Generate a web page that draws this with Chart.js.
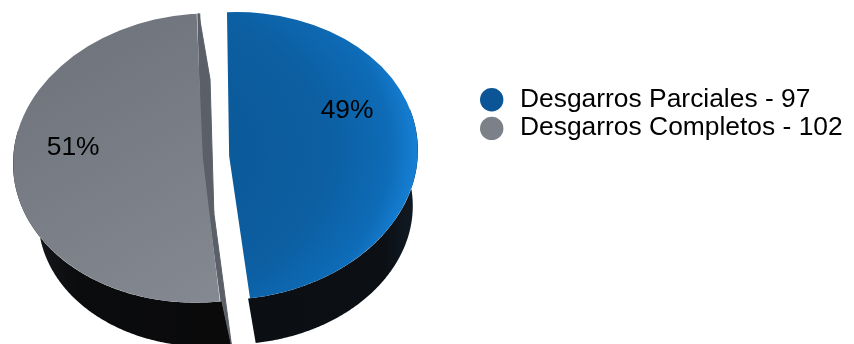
<!DOCTYPE html>
<html>
<head>
<meta charset="utf-8">
<script src="https://cdn.jsdelivr.net/npm/chart.js@4/dist/chart.umd.min.js"></script>
<style>
  html, body { margin: 0; padding: 0; background: #ffffff; }
  #wrap { position: relative; width: 854px; height: 344px; }
</style>
</head>
<body>
<div id="wrap"><canvas id="chart" width="854" height="344"></canvas></div>
<script>
// Tear types and patient counts
const categories = ['Desgarros Parciales', 'Desgarros Completos'];
const counts = [97, 102];
const sliceColors = ['#0c5c9c', '#7a7f87'];

const total = counts.reduce((a, b) => a + b, 0);
const percentLabels = counts.map(v => Math.round(v / total * 100) + '%');

// Top-face shading for each slice (in the pie's own drawing space)
function faceFill(context) {
  const chart = context.chart;
  const area = chart.chartArea;
  const i = context.dataIndex;
  if (!area) return sliceColors[i];
  const c = chart.ctx;
  const cx = (area.left + area.right) / 2;
  const cy = (area.top + area.bottom) / 2;
  const r = Math.min(area.width, area.height) / 2;
  if (i === 0) {
    const g = c.createRadialGradient(cx - 0.5 * r, cy - 0.05 * r, 0, cx - 0.5 * r, cy - 0.05 * r, 1.5 * r);
    g.addColorStop(0, '#0a5592');
    g.addColorStop(0.66, '#0c5fa2');
    g.addColorStop(0.86, '#0e6bb6');
    g.addColorStop(0.95, '#157fd4');
    g.addColorStop(1, '#1f8fe8');
    return g;
  }
  const g = c.createLinearGradient(cx - r, cy - r, cx + 0.2 * r, cy + r);
  g.addColorStop(0, '#6c7179');
  g.addColorStop(1, '#868b93');
  return g;
}

// Draws the pie as an extruded, tilted disc seen in perspective: side walls
// first, then the slice tops (drawn by Chart.js under a projection), then
// the percentages.
const pie3d = {
  id: 'pie3d',
  beforeDatasetsDraw(chart, args, o) {
    const ctx = chart.ctx;
    const arcs = chart.getDatasetMeta(0).data;
    if (!arcs.length) return;
    const first = arcs[0];
    const geom = arcs.map(arc => {
      const p = arc.getProps(['x', 'y', 'startAngle', 'endAngle', 'outerRadius', 'circumference']);
      const off = (arc.options.offset || 0) / 4;
      const mid = (p.startAngle + p.endAngle) / 2;
      const fix = 1 - Math.sin(Math.min(Math.PI, p.circumference || 0));
      return {
        cx: p.x + Math.cos(mid) * off,
        cy: p.y + Math.sin(mid) * off,
        r: p.outerRadius + off * fix,
        a0: p.startAngle, a1: p.endAngle, mid
      };
    });
    const s = o.radius / geom[0].r;
    const ct = Math.cos(o.tilt), st = Math.sin(o.tilt);
    const m = { a: s * ct, b: s * st, c: -s * o.squash * st, d: s * o.squash * ct };
    m.e = o.cx - (m.a * first.x + m.c * first.y);
    m.f = o.cy - (m.b * first.x + m.d * first.y);
    const P = (x, y) => [m.a * x + m.c * y + m.e, m.b * x + m.d * y + m.f];
    // bottom face: top face shrunk toward a vanishing point below the disc
    const [dx, dy] = o.depth;
    const k = o.bottomScale;
    const B = q => [o.cx + dx + k * (q[0] - o.cx), o.cy + dy + k * (q[1] - o.cy)];
    chart.$pie3d = { m, P, geom };

    // curved outer walls, front-facing stretch only
    const wLo = o.wallRange[0] * Math.PI / 180;
    const wHi = o.wallRange[1] * Math.PI / 180;
    geom.forEach((g, i) => {
      const t0 = Math.max(g.a0, wLo), t1 = Math.min(g.a1, wHi);
      if (t1 <= t0) return;
      const n = Math.max(16, Math.ceil((t1 - t0) / 0.01));
      const top = [];
      for (let j = 0; j <= n; j++) {
        const t = t0 + (t1 - t0) * j / n;
        top.push(P(g.cx + g.r * Math.cos(t), g.cy + g.r * Math.sin(t)));
      }
      ctx.beginPath();
      top.forEach((p, j) => j ? ctx.lineTo(p[0], p[1]) : ctx.moveTo(p[0], p[1]));
      for (let j = top.length - 1; j >= 0; j--) {
        const b = B(top[j]);
        ctx.lineTo(b[0], b[1]);
      }
      ctx.closePath();
      const xs = top.map(p => p[0]);
      const lg = ctx.createLinearGradient(Math.min(...xs), 0, Math.max(...xs), 0);
      o.wallStops[i].forEach(([pos, col]) => lg.addColorStop(pos, col));
      ctx.fillStyle = lg;
      ctx.fill();
    });

    // flat cut faces along the split, only those turned toward the viewer
    geom.forEach((g, i) => {
      const c0 = P(g.cx, g.cy);
      const cb = B(c0);
      [[g.a0, -1], [g.a1, 1]].forEach(([t, side]) => {
        const e = P(g.cx + g.r * Math.cos(t), g.cy + g.r * Math.sin(t));
        const eb = B(e);
        const q = [c0, e, eb, cb];
        let area = 0;
        q.forEach((p, j) => { const n2 = q[(j + 1) % 4]; area += p[0] * n2[1] - n2[0] * p[1]; });
        if (area * side <= 0) return;
        ctx.fillStyle = o.cutColors[i];
        ctx.strokeStyle = o.cutColors[i];
        ctx.beginPath();
        q.forEach((p, j) => j ? ctx.lineTo(p[0], p[1]) : ctx.moveTo(p[0], p[1]));
        ctx.closePath();
        ctx.lineWidth = 1;
        ctx.fill();
        ctx.stroke();
        // tuck the shared edge under the slice top so no seam shows
        ctx.beginPath();
        ctx.moveTo(c0[0], c0[1]);
        ctx.lineTo(e[0], e[1]);
        ctx.lineWidth = 3;
        ctx.stroke();
      });
    });

    ctx.save();
    ctx.transform(m.a, m.b, m.c, m.d, m.e, m.f);
  },
  afterDatasetsDraw(chart, args, o) {
    const ctx = chart.ctx;
    if (!chart.$pie3d) return;
    ctx.restore();
    const { P, geom } = chart.$pie3d;
    ctx.save();
    ctx.font = o.labelFont;
    ctx.fillStyle = '#000000';
    ctx.textAlign = 'center';
    ctx.textBaseline = 'middle';
    geom.forEach((g, i) => {
      const lift = o.labelLift[i] * Math.PI / 180;
      const t = g.mid + (Math.cos(g.mid) >= 0 ? -lift : lift);
      const p = P(g.cx + g.r * o.labelRadius * Math.cos(t), g.cy + g.r * o.labelRadius * Math.sin(t));
      ctx.fillText(percentLabels[i], p[0], p[1]);
    });
    ctx.restore();
  },
  afterDraw(chart, args, o) {
    // legend: colored dot + "category - count"
    const ctx = chart.ctx;
    const lg = o.legend;
    ctx.save();
    ctx.font = lg.font;
    ctx.textAlign = 'left';
    ctx.textBaseline = 'alphabetic';
    categories.forEach((name, i) => {
      const base = lg.top + i * lg.lineHeight;
      ctx.fillStyle = lg.colors[i];
      ctx.beginPath();
      ctx.arc(lg.dotX, base - lg.dotRise, lg.dotRadius, 0, Math.PI * 2);
      ctx.fill();
      ctx.fillStyle = '#000000';
      ctx.fillText(name + ' - ' + counts[i], lg.textX, base);
    });
    ctx.restore();
  }
};

new Chart(document.getElementById('chart'), {
  type: 'pie',
  data: {
    labels: categories,
    datasets: [{
      data: counts,
      backgroundColor: faceFill,
      borderWidth: 0,
      offset: 42,
      hoverOffset: 0,
      clip: false
    }]
  },
  options: {
    responsive: false,
    animation: false,
    events: [],
    rotation: 1.8,
    layout: { padding: { left: 20, right: 454, top: 10, bottom: 10 } },
    plugins: {
      legend: { display: false },
      tooltip: { enabled: false },
      pie3d: {
        cx: 216, cy: 157,
        radius: 189,
        squash: 0.76,
        tilt: -4 * Math.PI / 180,
        depth: [10, 55],
        bottomScale: 0.925,
        wallRange: [-14, 196],
        wallStops: [
          [[0, '#0b0e12'], [0.8, '#0c1015'], [1, '#111b26']],
          [[0, '#1a1d21'], [0.3, '#0b0c0e'], [1, '#0a0a0b']]
        ],
        cutColors: ['#0a3e6c', '#5b6068'],
        labelFont: '26.4px "Liberation Sans", Arial, sans-serif',
        labelRadius: 0.69,
        labelLift: [21.6, 11.5],
        legend: {
          font: '26.4px "Liberation Sans", Arial, sans-serif',
          colors: ['#0b5596', '#7b8089'],
          top: 106.5,
          lineHeight: 28.6,
          textX: 520,
          dotX: 491.7,
          dotRise: 6.7,
          dotRadius: 11.7
        }
      }
    }
  },
  plugins: [pie3d]
});
</script>
</body>
</html>
